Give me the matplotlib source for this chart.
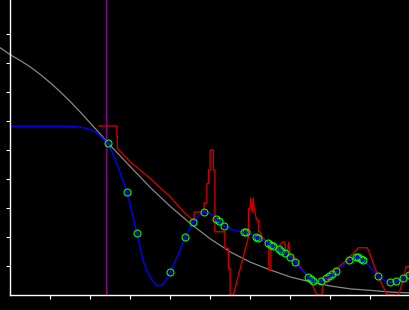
import matplotlib
matplotlib.use("Agg")
import matplotlib.pyplot as plt

# gray reference curve
ref_x = [-0.25, 0.0, 0.25, 0.5, 0.75, 1.0, 1.25, 1.5, 1.75, 2.0, 2.25, 2.5, 3.0,
         3.5, 4.0, 4.5, 5.0, 5.5, 6.0, 6.5, 7.0, 7.5, 8.0, 8.5, 9.0, 9.5, 10.0]
ref_y = [8.52, 8.28, 8.08, 7.86, 7.60, 7.31, 7.00, 6.66, 6.30, 5.92, 5.54, 5.15, 4.42,
         3.70, 3.05, 2.46, 1.93, 1.48, 1.13, 0.86, 0.62, 0.45, 0.31, 0.21, 0.16, 0.10, 0.07]

# blue fitted curve
fit_x = [0.0, 1.43, 1.74, 1.99, 2.15, 2.28, 2.44, 2.56, 2.69, 2.80, 2.91, 3.06,
         3.16, 3.31, 3.42, 3.54, 3.62, 3.69, 3.78, 3.86, 3.99, 4.08, 4.19, 4.28,
         4.37, 4.47, 4.57, 4.69, 4.79, 4.9, 5.02, 5.15, 5.22, 5.35, 5.6, 5.85,
         6.15, 6.5, 6.75, 7.0, 7.11, 7.3, 7.5, 7.65, 7.76, 8.04, 8.3, 8.46, 8.65,
         8.81, 9.0, 9.19, 9.35, 9.49, 9.64, 9.81, 9.96, 10.1]
fit_y = [5.82, 5.82, 5.79, 5.71, 5.6, 5.43, 5.24, 4.85, 4.41, 3.98, 3.55, 2.69,
         2.14, 1.21, 0.80, 0.52, 0.37, 0.31, 0.34, 0.45, 0.79, 1.07, 1.38, 1.70,
         1.99, 2.27, 2.52, 2.73, 2.84, 2.87, 2.78, 2.63, 2.54, 2.38, 2.22, 2.17,
         2.01, 1.73, 1.55, 1.31, 1.14, 0.85, 0.55, 0.43, 0.48, 0.72, 1.02, 1.21,
         1.31, 1.21, 0.95, 0.66, 0.5, 0.45, 0.48, 0.59, 0.69, 0.78]

# sample points (green circles)
pts_x = [2.44, 2.91, 3.16, 3.99, 4.37, 4.57, 4.85, 5.15, 5.22, 5.35, 5.83, 5.88,
         6.15, 6.20, 6.44, 6.51, 6.56, 6.71, 6.76, 6.86, 6.99, 7.11, 7.44, 7.51,
         7.56, 7.76, 7.89, 7.96, 8.04, 8.14, 8.46, 8.64, 8.69, 8.76, 8.81, 9.19,
         9.49, 9.64, 9.81, 9.96]
pts_y = [5.24, 3.55, 2.14, 0.79, 1.99, 2.52, 2.85, 2.63, 2.54, 2.38, 2.17, 2.17,
         2.01, 1.97, 1.79, 1.72, 1.69, 1.59, 1.52, 1.45, 1.31, 1.14, 0.62, 0.55,
         0.48, 0.48, 0.59, 0.66, 0.72, 0.83, 1.21, 1.31, 1.31, 1.24, 1.21, 0.66,
         0.45, 0.48, 0.59, 0.69]

# red measured trace
meas_x = [2.21, 2.66, 2.66, 2.67, 2.67, 2.99, 3.49, 3.99, 4.36, 4.59, 4.59, 4.84,
          4.84, 4.91, 4.91, 4.95, 4.95, 4.99, 4.99, 5.07, 5.07, 5.11, 5.11, 5.36,
          5.36, 5.45, 5.45, 5.49, 5.49, 5.57, 5.95, 5.95, 5.99, 6.01, 6.04, 6.07,
          6.09, 6.11, 6.15, 6.20, 6.20, 6.24, 6.29, 6.36, 6.46, 6.46, 6.51, 6.51,
          6.54, 6.66, 6.74, 6.81, 6.86, 6.88, 6.92, 6.96, 6.99, 7.16, 7.24, 7.49,
          7.66, 7.78, 7.82, 8.11, 8.41, 8.70, 8.91, 8.95, 9.16, 9.41, 9.70, 9.82,
          9.89, 10.2]
meas_y = [5.83, 5.83, 5.46, 5.46, 5.06, 4.60, 4.02, 3.39, 2.82, 2.55, 2.86, 2.86,
          3.18, 3.18, 3.85, 3.85, 4.31, 4.31, 5.00, 5.00, 4.31, 4.31, 2.18, 2.18,
          1.61, 1.61, 0.92, 0.92, 0.0, 0.0, 2.01, 2.99, 2.99, 3.34, 2.86, 3.34,
          3.00, 2.86, 2.59, 2.59, 2.18, 2.18, 2.00, 1.90, 1.79, 0.86, 0.86, 1.55,
          1.79, 1.62, 1.72, 1.83, 1.83, 1.45, 1.45, 1.83, 1.38, 1.15, 0.98, 0.52,
          0.0, 0.0, 0.34, 0.86, 1.21, 1.63, 1.63, 1.55, 0.75, 0.0, 0.0, 0.52,
          0.98, 0.98]

marker_x = 2.40

fig = plt.figure(figsize=(4.1, 3.1), dpi=100, facecolor="black")
ax = fig.add_axes([10.5 / 410, 15 / 310, 399.5 / 410, 295 / 310])
ax.set_facecolor("black")

ax.plot(ref_x, ref_y, color="#888888", lw=0.9, clip_on=False)
ax.axvline(marker_x, color="#8b008b", lw=1.0)
ax.plot(meas_x, meas_y, color="#cc0000", lw=1.0)
ax.plot(fit_x, fit_y, color="#0000ff", lw=1.0)
ax.plot(pts_x, pts_y, linestyle="none", marker="o", ms=5, mfc="none",
        mec="#00ff00", mew=0.8)
ax.plot(pts_x, pts_y, linestyle="none", marker=".", ms=2, color="#0000ff")

ax.set_xlim(0, 399.5 / 40)
ax.set_ylim(0, 295 / 29)
ax.set_xticks(range(1, 10))
ax.set_yticks(range(1, 10))
ax.set_xticklabels([])
ax.set_yticklabels([])
for side in ["top", "right"]:
    ax.spines[side].set_visible(False)
for side in ["left", "bottom"]:
    ax.spines[side].set_color("white")
    ax.spines[side].set_linewidth(1.0)
ax.tick_params(colors="white", length=3, width=0.8, direction="out")

fig.savefig("out.png", dpi=100, facecolor="black")
